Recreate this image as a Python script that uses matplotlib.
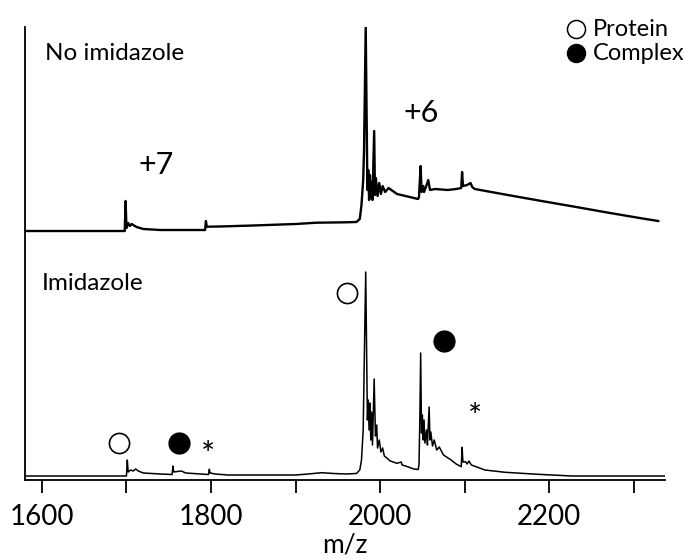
import matplotlib
matplotlib.use("Agg")
import matplotlib.pyplot as plt
from matplotlib.lines import Line2D

plt.rcParams['font.family'] = ['Lato', 'DejaVu Sans']

# top trace: no imidazole (m/z, intensity a.u.)
top_mz = [1580, 1698, 1699, 1700, 1702, 1704, 1706, 1712, 1720, 1740, 1793, 1794, 1795,
          1810, 1850, 1900, 1925, 1960, 1972, 1976, 1978, 1980, 1981, 1983, 1985, 1986,
          1987, 1988, 1989, 1990, 1991, 1993, 1994, 1995, 1997, 1999, 2001, 2003, 2006,
          2010, 2015, 2020, 2030, 2040, 2045, 2046, 2047, 2048, 2049, 2051, 2052, 2055,
          2057, 2059, 2065, 2080, 2090, 2096, 2097, 2098, 2103, 2107, 2109, 2112, 2151,
          2191, 2230, 2270, 2309, 2329]
top_int = [0, 0, 30, 3, 8, 5, 7, 4, 2, 1, 1, 10, 4.3,
           4.5, 5.5, 7, 8.3, 8.7, 9, 12, 26, 51, 80, 204, 41, 61,
           31, 56, 33, 49, 31, 100, 36, 53, 35, 48, 37, 45, 39,
           43, 40, 37, 35, 33, 32, 34, 50, 65, 39, 45, 39, 46,
           51, 41, 42, 41, 42, 43, 59, 45, 46, 48, 44, 42, 36,
           30, 24.3, 18.3, 12.7, 10]

# bottom trace: imidazole
bot_mz = [1580, 1700, 1701, 1702, 1705, 1708, 1711, 1714, 1720, 1740, 1754, 1755, 1756,
          1760, 1765, 1770, 1797, 1798, 1799, 1805, 1820, 1900, 1915, 1931, 1945, 1960,
          1972, 1976, 1978, 1980, 1981, 1983, 1985, 1986, 1987, 1988, 1989, 1990, 1991,
          1993, 1994.5, 1996, 1997, 1999, 2001, 2003, 2005, 2008, 2012, 2020, 2025, 2026,
          2030, 2040, 2045, 2046, 2047, 2048, 2049, 2050, 2051, 2052, 2053, 2055, 2056,
          2058, 2059, 2060, 2062, 2064, 2067, 2070, 2075, 2084, 2090, 2096, 2097, 2098,
          2101, 2103, 2105, 2108, 2124, 2148, 2187, 2227, 2337]
bot_int = [0, 0, 16, 4, 6, 5, 7, 5, 3, 2, 1.5, 10, 4,
           4.5, 5, 3, 1.5, 6.7, 3, 2, 1, 1, 2, 3.3, 2.5, 2,
           2.5, 6, 16, 46, 100, 204, 56, 76, 46, 73, 36, 64, 31,
           97, 40, 51, 28, 36, 24, 28, 20, 18, 15, 12.7, 14, 11,
           10, 7, 6.5, 11, 56, 123, 43, 61, 36, 56, 33, 46, 31,
           69, 36, 44, 30, 36, 26, 29, 21, 16, 12, 9.3, 28.7, 14,
           14.3, 12, 15, 11, 6, 3.7, 1.7, 0, 0]

# peak annotations (m/z, height on plot)
protein_mz = [1691, 1961]
protein_y = [37, 187]
complex_mz = [1762, 2076]
complex_y = [37, 139]
star_mz = [1796, 2112]
star_y = [24, 62]

W, H = 684, 559
fig = plt.figure(figsize=(W / 100, H / 100), dpi=100)
ax = fig.add_axes([25 / W, 79 / H, 640 / W, 453 / H])

top_base = 249
bot_base = 4
ax.plot(top_mz, [top_base + v for v in top_int], color='black', lw=1.7)
ax.plot(bot_mz, [bot_base + v for v in bot_int], color='black', lw=1.1)

ax.plot(protein_mz, protein_y, 'o', ms=14.5, mfc='white', mec='black', mew=1.2)
ax.plot(complex_mz, complex_y, 'o', ms=15, mfc='black', mec='black')
for m, y in zip(star_mz, star_y):
    ax.text(m, y, '*', fontsize=24, ha='center', va='center')

ax.set_xlim(1580, 2337)
ax.set_ylim(0, 453)
ax.set_xticks(range(1600, 2301, 100))
ax.set_xticklabels([str(t) if t % 200 == 0 else '' for t in range(1600, 2301, 100)],
                   fontsize=20)
ax.set_yticks([])
ax.tick_params(axis='x', length=9, width=1.3, direction='out', pad=8)
for s in ['top', 'right']:
    ax.spines[s].set_visible(False)
ax.spines['left'].set_linewidth(1.3)
ax.spines['bottom'].set_linewidth(1.3)


def fx(x):
    return x / W


def fy(y):
    return 1 - y / H


fig.text(fx(345), fy(545), 'm/z', fontsize=19, ha='center', va='center')

fig.text(fx(45), fy(53), 'No imidazole', fontsize=17.5, va='center')
fig.text(fx(42), fy(283), 'Imidazole', fontsize=17.5, va='center')
fig.text(fx(156), fy(165), '+7', fontsize=22, ha='center', va='center')
fig.text(fx(421), fy(113), '+6', fontsize=22, ha='center', va='center')

fig.add_artist(Line2D([fx(576)], [fy(29)], marker='o', ms=13, mfc='white',
                      mec='black', mew=1.1, transform=fig.transFigure))
fig.add_artist(Line2D([fx(576)], [fy(53)], marker='o', ms=13, mfc='black',
                      mec='black', transform=fig.transFigure))
fig.text(fx(593), fy(29), 'Protein', fontsize=17, va='center')
fig.text(fx(593), fy(53), 'Complex', fontsize=17, va='center')

fig.savefig('out.png', dpi=100)
